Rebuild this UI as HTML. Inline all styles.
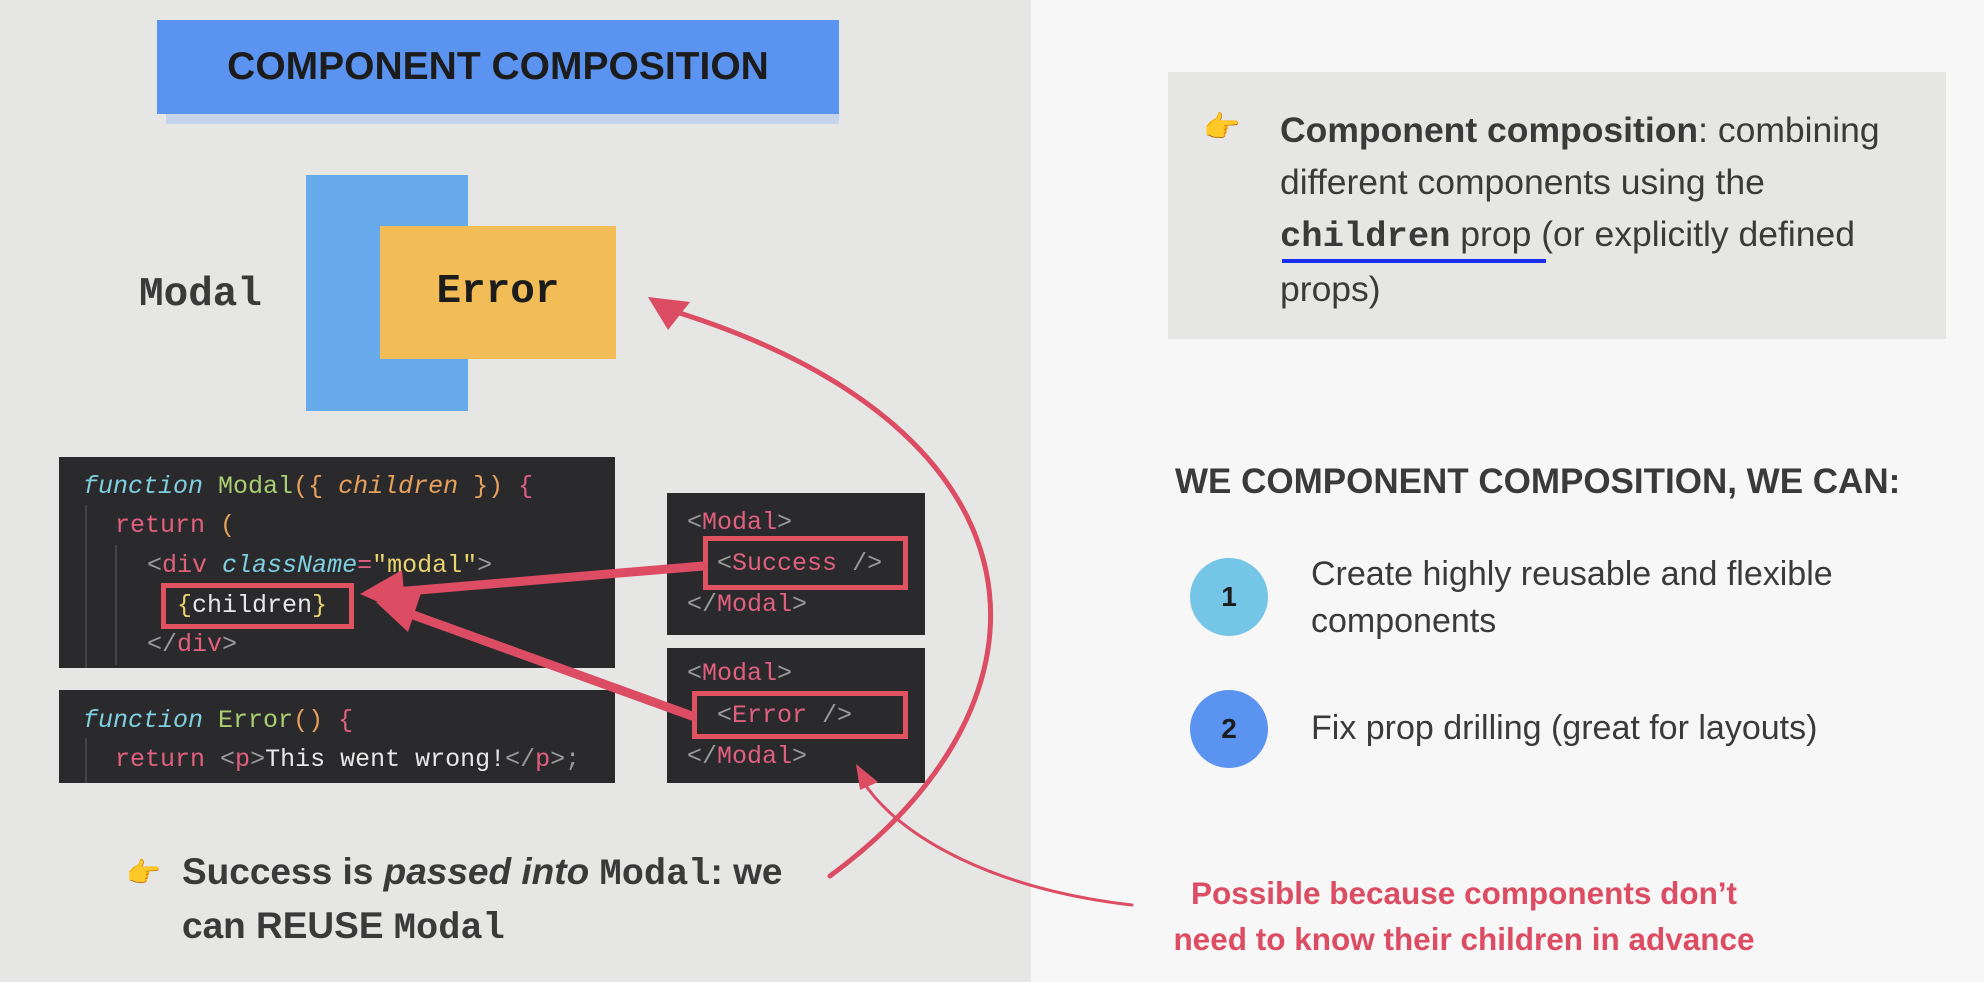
<!DOCTYPE html>
<html><head><meta charset="utf-8"><style>
body{margin:0;width:1984px;height:982px;position:relative;overflow:hidden;background:#f7f7f7;font-family:"Liberation Sans",sans-serif;color:#3a3a3a}
.a{position:absolute;white-space:nowrap}
.code{position:absolute;background:#2a2a2c;font-family:"Liberation Mono",monospace;font-size:25px;color:#e8e8e8}
.code .a{line-height:30px}
.fn{color:#7ecfdf;font-style:italic}.gr{color:#a9cf73}.or{color:#e7a15b}.pk{color:#e0607e}.tg{color:#9a9a9a}.ye{color:#e8d36f}.cy{color:#7ecfdf;font-style:italic}
.hl{position:absolute;border:5px solid #e0525f;box-sizing:border-box}
.mono{font-family:"Liberation Mono",monospace}
</style></head><body>
<div class="a" style="left:0;top:0;width:1031px;height:982px;background:#e6e6e5"></div>
<div class="a" style="left:166px;top:100px;width:673px;height:24px;background:#c5d4ea"></div>
<div class="a" style="left:157px;top:20px;width:682px;height:94px;background:#5b93f1;text-align:center;line-height:94px;font-weight:bold;font-size:39px;color:#1c1c1c">COMPONENT COMPOSITION</div>
<div class="a" style="left:306px;top:175px;width:162px;height:236px;background:#68abec"></div>
<div class="a" style="left:380px;top:226px;width:236px;height:133px;background:#f2bd57;text-align:center;line-height:133px;font-family:'Liberation Mono',monospace;font-weight:bold;font-size:41px;color:#1c1c1c">Error</div>
<div class="a mono" style="left:139px;top:272px;font-weight:bold;font-size:41px;line-height:46px;color:#3a3a3a">Modal</div>

<div class="code" style="left:59px;top:457px;width:556px;height:211px">
<div class="a" style="left:24px;top:15px"><span class="fn">function</span> <span class="gr">Modal</span><span class="or">({</span> <span class="or" style="font-style:italic">children</span> <span class="or">})</span> <span class="pk">{</span></div>
<div class="a" style="left:56px;top:54px"><span class="pk">return</span> <span class="or">(</span></div>
<div class="a" style="left:88px;top:94px"><span class="tg">&lt;</span><span class="pk">div</span> <span class="cy">className</span><span class="pk">=</span><span class="ye">"modal"</span><span class="tg">&gt;</span></div>
<div class="a" style="left:118px;top:134px"><span class="ye">{</span>children<span class="ye">}</span></div>
<div class="a" style="left:88px;top:173px"><span class="tg">&lt;/</span><span class="pk">div</span><span class="tg">&gt;</span></div>
<div class="a" style="left:26px;top:48px;width:2px;height:163px;background:#444"></div>
<div class="a" style="left:56px;top:88px;width:2px;height:120px;background:#444"></div>
</div>
<div class="code" style="left:59px;top:690px;width:556px;height:93px">
<div class="a" style="left:24px;top:16px"><span class="fn">function</span> <span class="gr">Error</span><span class="or">()</span> <span class="pk">{</span></div>
<div class="a" style="left:56px;top:55px"><span class="pk">return</span> <span class="tg">&lt;</span><span class="pk">p</span><span class="tg">&gt;</span>This went wrong!<span class="tg">&lt;/</span><span class="pk">p</span><span class="tg">&gt;;</span></div>
<div class="a" style="left:26px;top:48px;width:2px;height:45px;background:#444"></div>
</div>
<div class="code" style="left:667px;top:493px;width:258px;height:142px">
<div class="a" style="left:20px;top:15px"><span class="tg">&lt;</span><span class="pk">Modal</span><span class="tg">&gt;</span></div>
<div class="a" style="left:50px;top:56px"><span class="tg">&lt;</span><span class="pk">Success</span> <span class="tg">/&gt;</span></div>
<div class="a" style="left:20px;top:97px"><span class="tg">&lt;/</span><span class="pk">Modal</span><span class="tg">&gt;</span></div>
</div>
<div class="code" style="left:667px;top:648px;width:258px;height:135px">
<div class="a" style="left:20px;top:11px"><span class="tg">&lt;</span><span class="pk">Modal</span><span class="tg">&gt;</span></div>
<div class="a" style="left:50px;top:53px"><span class="tg">&lt;</span><span class="pk">Error</span> <span class="tg">/&gt;</span></div>
<div class="a" style="left:20px;top:94px"><span class="tg">&lt;/</span><span class="pk">Modal</span><span class="tg">&gt;</span></div>
</div>
<div class="hl" style="left:161px;top:583px;width:193px;height:46px"></div>
<div class="hl" style="left:703px;top:536px;width:205px;height:54px"></div>
<div class="hl" style="left:692px;top:691px;width:216px;height:48px"></div>

<div class="a" style="left:126px;top:856px;font-size:28px">👉</div>
<div class="a" style="left:182px;top:852px;font-size:37px;font-weight:bold;line-height:40px;color:#3a3a3a">Success is <i>passed into</i> <span class="mono">Modal</span>: we</div>
<div class="a" style="left:182px;top:906px;font-size:37px;font-weight:bold;line-height:40px;color:#3a3a3a">can REUSE <span class="mono">Modal</span></div>

<div class="a" style="left:1168px;top:72px;width:778px;height:267px;background:#e6e6e5"></div>
<div class="a" style="left:1203px;top:110px;font-size:30px">👉</div>
<div class="a" style="left:1280px;top:104px;font-size:35.5px;line-height:52px;color:#3a3a3a"><b>Component composition</b>: combining<br>different components using the<br><b class="mono">children</b> prop (or explicitly defined<br>props)</div>
<div class="a" style="left:1282px;top:259px;width:264px;height:4px;background:#1a2ff0"></div>

<div class="a" style="left:1175px;top:462px;font-size:35px;font-weight:bold;color:#3a3a3a">WE COMPONENT COMPOSITION, WE CAN:</div>
<div class="a" style="left:1190px;top:558px;width:78px;height:78px;border-radius:50%;background:#75c5e6;text-align:center;line-height:78px;font-weight:bold;font-size:28px;color:#1c1c1c">1</div>
<div class="a" style="left:1190px;top:690px;width:78px;height:78px;border-radius:50%;background:#5b93f1;text-align:center;line-height:78px;font-weight:bold;font-size:28px;color:#1c1c1c">2</div>
<div class="a" style="left:1311px;top:551px;font-size:34px;line-height:47px;color:#3a3a3a">Create highly reusable and flexible<br>components</div>
<div class="a" style="left:1311px;top:705px;font-size:34px;line-height:47px;color:#3a3a3a">Fix prop drilling (great for layouts)</div>

<div class="a" style="left:1114px;top:870px;width:700px;text-align:center;font-size:31.5px;font-weight:bold;line-height:46px;color:#dc4c62">Possible because components don’t<br>need to know their children in advance</div>

<svg class="a" style="left:0;top:0" width="1984" height="982">
<g fill="none" stroke="#dc4c62" stroke-linecap="round">
<path d="M830,876 C1070,700 1060,430 670,310" stroke-width="5"/>
<path d="M1132,905 C1000,890 900,840 862,780" stroke-width="3"/>
<path d="M703,566 L395,592" stroke-width="9"/>
<path d="M692,716 L405,612" stroke-width="9"/>
</g>
<g fill="#dc4c62">
<polygon points="648,297 690,302 668,330"/>
<polygon points="856,764 878,782 860,790"/>
<polygon points="360,594 402,570 406,614"/>
<polygon points="376,602 422,590 408,632"/>
</g>
</svg>
</body></html>
